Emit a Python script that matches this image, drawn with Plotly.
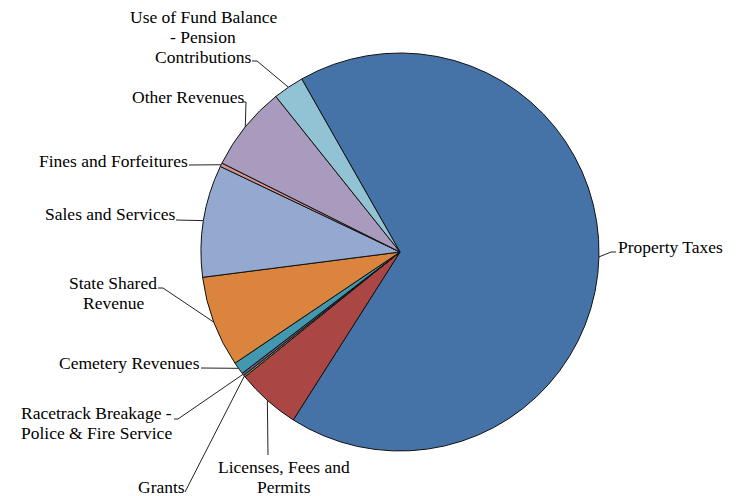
import math
import plotly.graph_objects as go

# Revenue sources, clockwise from the top-left edge of the largest slice
labels = [
    "Property Taxes",
    "Licenses, Fees and Permits",
    "Grants",
    "Racetrack Breakage - Police & Fire Service",
    "Cemetery Revenues",
    "State Shared Revenue",
    "Sales and Services",
    "Fines and Forfeitures",
    "Other Revenues",
    "Use of Fund Balance - Pension Contributions",
]
values = [67.2, 5.2, 0.15, 0.2, 1.0, 7.4, 9.1, 0.3, 6.9, 2.5]
colors = ["#4572A7", "#AA4643", "#89A54E", "#71588F", "#4198AF",
          "#DB843D", "#93A9CF", "#D19392", "#A99BBD", "#92C3D4"]

# Text as displayed next to each slice (one entry per printed line)
label_lines = [
    ["Property Taxes"],
    ["Licenses, Fees and", "Permits"],
    ["Grants"],
    ["Racetrack Breakage -", "Police & Fire Service"],
    ["Cemetery Revenues"],
    ["State Shared", "Revenue"],
    ["Sales and Services"],
    ["Fines and Forfeitures"],
    ["Other Revenues"],
    ["Use of Fund Balance", "- Pension", "Contributions"],
]

# ---- layout / geometry (pixels) ----
W, H = 737, 496
CX, CY, R = 400.0, 252.0, 199.0
ROTATION = 330.4
FONT = dict(family="Liberation Serif", size=17.5, color="#000000")
LINE_GAP = 20

# label centre (x, y of first line) and leader waypoints from label toward the slice
label_place = [
    dict(cx=670, cy=247, lead=[(616, 252), (611, 252)]),
    dict(cx=284, cy=467, lead=[(268, 455)]),
    dict(cx=161, cy=487, lead=[(185, 492)]),
    dict(cx=96, cy=413, lead=[(174, 419), (178, 419)]),
    dict(cx=129.5, cy=363, lead=[(201, 368)]),
    dict(cx=113, cy=283, lead=[(158, 288), (163, 288)]),
    dict(cx=109.5, cy=214, lead=[(176, 220)]),
    dict(cx=113, cy=161, lead=[(189, 165)]),
    dict(cx=187.5, cy=97, lead=[(243, 102), (246, 102)]),
    dict(cx=203, cy=17, lead=[(252, 61), (257, 61)]),
]

fig = go.Figure()

fig.add_trace(go.Pie(
    labels=labels,
    values=values,
    sort=False,
    direction="clockwise",
    rotation=ROTATION,
    textinfo="none",
    hoverinfo="label+percent",
    marker=dict(colors=colors, line=dict(color="#111111", width=1)),
    domain=dict(x=[(CX - R) / W, (CX + R) / W],
                y=[1 - (CY + R) / H, 1 - (CY - R) / H]),
    showlegend=False,
))

# leader lines: from the label to the outer edge at each slice's mid-angle
total = sum(values)
cum = 0.0
for i, v in enumerate(values):
    theta = math.radians(ROTATION + 360.0 * (cum + v / 2.0) / total)
    cum += v
    px = CX + R * math.sin(theta)
    py = CY - R * math.cos(theta)
    pts = label_place[i]["lead"] + [(px, py)]
    fig.add_trace(go.Scatter(
        x=[p[0] for p in pts], y=[p[1] for p in pts],
        mode="lines", line=dict(color="#222222", width=1),
        hoverinfo="skip", showlegend=False,
    ))
    for k, line in enumerate(label_lines[i]):
        fig.add_annotation(
            x=label_place[i]["cx"], y=label_place[i]["cy"] + k * LINE_GAP,
            xref="x", yref="y", text=line, showarrow=False,
            xanchor="center", yanchor="middle", font=FONT,
        )

fig.update_layout(
    width=W, height=H,
    margin=dict(l=0, r=0, t=0, b=0),
    paper_bgcolor="white", plot_bgcolor="rgba(0,0,0,0)",
    font=dict(family="Liberation Serif"),
    xaxis=dict(range=[0, W], visible=False, fixedrange=True, domain=[0, 1]),
    yaxis=dict(range=[H, 0], visible=False, fixedrange=True, domain=[0, 1]),
    showlegend=False,
)

fig.write_html("out.html")
